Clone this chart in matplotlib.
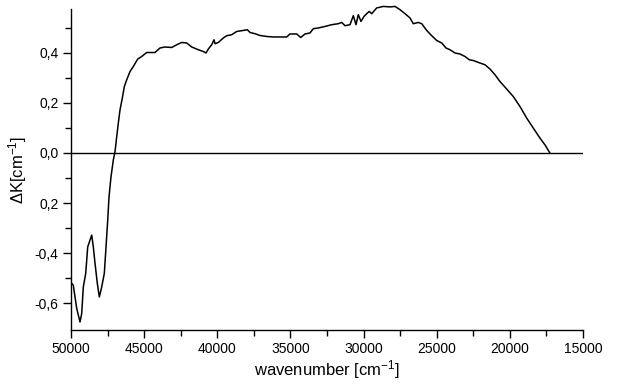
import matplotlib
matplotlib.use('Agg')
import matplotlib.pyplot as plt
from matplotlib.ticker import FixedLocator, FixedFormatter

plt.rcParams['font.family'] = ['Liberation Sans', 'DejaVu Sans']
plt.rcParams['mathtext.fontset'] = 'custom'
plt.rcParams['mathtext.rm'] = 'Liberation Sans'
plt.rcParams['mathtext.it'] = 'Liberation Sans'
plt.rcParams['mathtext.default'] = 'regular'

# wavenumber [cm-1] and dK [cm-1]
wn = [49952, 49843, 49727, 49610, 49385, 49269, 49159, 48995, 48858, 48701,
      48585, 48476, 48359, 48202, 48065, 47901, 47724, 47607, 47491, 47402,
      47266, 47108, 46992, 46876, 46767, 46650, 46493, 46356, 46192, 45967,
      45741, 45440, 45167, 44825, 44258, 43916, 43574, 43116, 42774, 42433,
      42091, 41749, 41298, 40956, 40772, 40614, 40382, 40225, 40156, 39931,
      39589, 39356, 39015, 38673, 38331, 37948, 37764, 37422, 37080, 36622,
      36171, 35255, 35030, 34571, 34298, 34004, 33662, 33436, 33095, 32637,
      32179, 31728, 31495, 31270, 30928, 30702, 30518, 30361, 30176, 29971,
      29786, 29608, 29444, 29102, 28651, 28193, 27851, 27510, 27168, 26826,
      26600, 26258, 26026, 25684, 25342, 25000, 24658, 24365, 24092, 23750,
      23408, 23066, 22772, 22499, 22041, 21699, 21357, 21015, 20674, 20216,
      19764, 19306, 18848, 18397, 17939, 17597, 17256]
dk = [-0.521, -0.528, -0.575, -0.621, -0.675, -0.641, -0.535, -0.481, -0.375, -0.348,
      -0.328, -0.375, -0.441, -0.521, -0.575, -0.535, -0.481, -0.375, -0.268, -0.175,
      -0.095, -0.028, 0.005, 0.065, 0.119, 0.172, 0.219, 0.265, 0.292, 0.325,
      0.345, 0.375, 0.385, 0.401, 0.401, 0.419, 0.423, 0.421, 0.432, 0.441,
      0.439, 0.423, 0.412, 0.405, 0.399, 0.415, 0.432, 0.452, 0.436, 0.441,
      0.459, 0.468, 0.472, 0.485, 0.488, 0.492, 0.481, 0.476, 0.469, 0.465,
      0.463, 0.463, 0.475, 0.475, 0.461, 0.475, 0.479, 0.496, 0.499, 0.505,
      0.512, 0.516, 0.521, 0.508, 0.512, 0.548, 0.512, 0.552, 0.525, 0.545,
      0.556, 0.565, 0.556, 0.579, 0.585, 0.583, 0.585, 0.572, 0.556, 0.539,
      0.516, 0.521, 0.516, 0.489, 0.468, 0.449, 0.439, 0.419, 0.412, 0.399,
      0.395, 0.385, 0.372, 0.369, 0.359, 0.352, 0.335, 0.312, 0.285, 0.255,
      0.225, 0.185, 0.139, 0.099, 0.059, 0.032, -0.001]

y_ticks = [0.4, 0.2, 0.0, -0.2, -0.4, -0.6]
y_labels = ['0,4', '0,2', '0,0', '0,2', '-0,4', '-0,6']
x_ticks = [50000, 45000, 40000, 35000, 30000, 25000, 20000, 15000]

fig = plt.figure(figsize=(6.17, 3.88), dpi=100)
ax = fig.add_axes([0.1151, 0.1495, 0.8298, 0.8275])

ax.plot(wn, dk, color='black', lw=1.1, clip_on=False)
ax.axhline(0, color='black', lw=1.0)

ax.set_xlim(50000, 15000)
ax.set_ylim(-0.707, 0.575)

ax.spines['top'].set_visible(False)
ax.spines['right'].set_visible(False)
for s in ['left', 'bottom']:
    ax.spines[s].set_linewidth(1.0)

ax.xaxis.set_major_locator(FixedLocator(x_ticks))
ax.xaxis.set_minor_locator(FixedLocator([47500, 42500, 37500, 32500, 27500, 22500, 17500]))
ax.set_xticklabels([str(t) for t in x_ticks])
ax.yaxis.set_major_locator(FixedLocator(y_ticks))
ax.yaxis.set_major_formatter(FixedFormatter(y_labels))
ax.yaxis.set_minor_locator(FixedLocator([0.5, 0.3, 0.1, -0.1, -0.3, -0.5]))

ax.tick_params(which='major', direction='out', length=6, width=1.0, labelsize=10, pad=3)
ax.tick_params(which='minor', direction='out', length=4, width=1.0)

ax.set_xlabel(r'wavenumber [cm$^{-1}$]', fontsize=12, labelpad=1)
ax.set_ylabel(r'$\Delta$K[cm$^{-1}$]', fontsize=12, labelpad=4)

fig.savefig('out.png', dpi=100)
